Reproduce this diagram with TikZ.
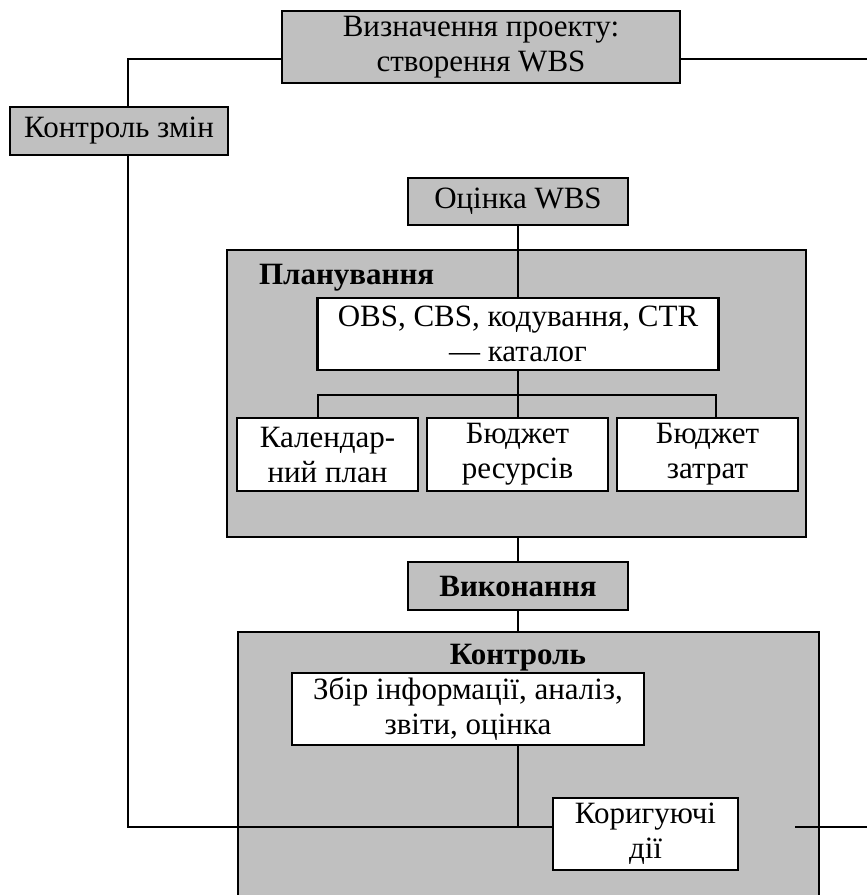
\documentclass[tikz,border=0pt]{standalone}
\usepackage{fontspec}
\setmainfont{Liberation Serif}
\usetikzlibrary{positioning}
\definecolor{boxgrey}{HTML}{C0C0C0}
\tikzstyle{block} = [draw, fill=boxgrey, rectangle, inner sep=0pt, align=center]
\tikzstyle{item} = [draw, fill=white, rectangle, inner sep=0pt, align=center]
\tikzstyle{panel} = [fill=boxgrey, rectangle, inner sep=0pt]
\tikzstyle{output} = [coordinate]

\begin{document}
\begin{tikzpicture}[x=0.5pt, y=-0.5pt, line width=1.1pt, font=\fontsize{15.5}{17.5}\selectfont]
    \useasboundingbox (0,0) rectangle (867,895);
    % top of the scheme
    \node [block, minimum width=199pt, minimum height=36pt] (defn) at (481,47) {Визначення проекту:\\створення WBS};
    \node [block, minimum width=109pt, minimum height=24pt] (changes) at (119,131) {Контроль змін};
    \node [block, minimum width=110pt, minimum height=23.5pt] (estimate) at (518,201.5) {Оцінка WBS};
    % planning
    \node [block, minimum width=289.5pt, minimum height=143.5pt] (planning) at (516.5,393.5) {};
    \node [anchor=west, inner sep=0pt] (plantitle) at (258,278) {\textbf{Планування}};
    \node [item, minimum width=200.5pt, minimum height=36pt] (catalog) at (518,334) {OBS, CBS, кодування, CTR\\— каталог};
    \node [item, minimum width=90.5pt, minimum height=36.5pt] (calendar) at (327.5,454.5) {Календар-\\ний план};
    \node [item, minimum width=90.5pt, minimum height=36.5pt] (resources) at (517.5,454.5) {Бюджет\\ресурсів};
    \node [item, minimum width=90.5pt, minimum height=36.5pt] (costs) at (707.5,454.5) {Бюджет\\затрат};
    \node [output] (forkleft) at (318,395) {};
    \node [output] (forkright) at (716,395) {};
    % execution and control
    \node [block, minimum width=110pt, minimum height=24pt] (execution) at (518,586) {\textbf{Виконання}};
    \node [panel, minimum width=289.5pt, minimum height=131pt] (control) at (528.5,764) {};
    \draw (control.south west) |- (control.north east) -- (control.south east);
    \node (ctrltitle) at (518,658) {\textbf{Контроль}};
    \node [item, minimum width=176pt, minimum height=36pt] (gather) at (468,709) {Збір інформації, аналіз,\\звіти, оцінка};
    \node [item, minimum width=92.5pt, minimum height=36pt] (fix) at (645.5,834) {Коригуючі\\дії};
    \node [output] (turn) at (128,59) {};
    \node [output] (exit) at (867,59) {};
    \node [output] (corner) at (128,827) {};
    \node [output] (stub) at (795,827) {};
    \node [output] (rightend) at (867,827) {};

    \draw (defn.west |- turn) -- (turn) -- (turn |- changes.north);
    \draw (defn.east |- exit) -- (exit);
    \draw (estimate.south) -- (estimate.south |- catalog.north);
    \draw (catalog.south) -- (catalog.south |- resources.north);
    \draw (forkleft |- calendar.north) |- (forkright) -- (forkright |- costs.north);
    \draw (execution.north) -- (execution.north |- planning.south);
    \draw (execution.south) -- (execution.south |- control.north);
    \draw (execution.south |- gather.south) -- (execution.south |- corner);
    \draw (turn |- changes.south) -- (corner) -- (corner -| fix.west);
    \draw (stub) -- (rightend);
\end{tikzpicture}
\end{document}
